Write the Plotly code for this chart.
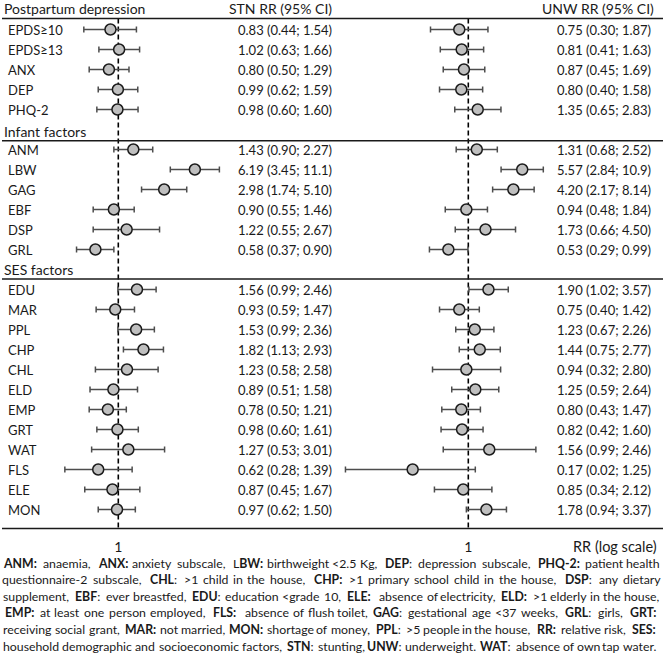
import re
import numpy as np
import plotly.graph_objects as go

W, H = 669, 655
FONT = "Lato"

# ---------------- data ----------------
pp_labels = ["EPDS≥10", "EPDS≥13", "ANX", "DEP", "PHQ-2"]
inf_labels = ["ANM", "LBW", "GAG", "EBF", "DSP", "GRL"]
ses_labels = ["EDU", "MAR", "PPL", "CHP", "CHL", "ELD", "EMP", "GRT", "WAT", "FLS", "ELE", "MON"]

stn_rr = [0.83, 1.02, 0.80, 0.99, 0.98,
          1.43, 6.19, 2.98, 0.90, 1.22, 0.58,
          1.56, 0.93, 1.53, 1.82, 1.23, 0.89, 0.78, 0.98, 1.27, 0.62, 0.87, 0.97]
stn_lo = [0.44, 0.63, 0.50, 0.62, 0.60,
          0.90, 3.45, 1.74, 0.55, 0.55, 0.37,
          0.99, 0.59, 0.99, 1.13, 0.58, 0.51, 0.50, 0.60, 0.53, 0.28, 0.45, 0.62]
stn_hi = [1.54, 1.66, 1.29, 1.59, 1.60,
          2.27, 11.1, 5.10, 1.46, 2.67, 0.90,
          2.46, 1.47, 2.36, 2.93, 2.58, 1.58, 1.21, 1.61, 3.01, 1.39, 1.67, 1.50]

unw_rr = [0.75, 0.81, 0.87, 0.80, 1.35,
          1.31, 5.57, 4.20, 0.94, 1.73, 0.53,
          1.90, 0.75, 1.23, 1.44, 0.94, 1.25, 0.80, 0.82, 1.95, 0.17, 0.85, 1.78]
unw_lo = [0.30, 0.41, 0.45, 0.40, 0.65,
          0.68, 2.84, 2.17, 0.48, 0.66, 0.29,
          1.02, 0.40, 0.67, 0.75, 0.32, 0.59, 0.43, 0.42, 0.45, 0.02, 0.34, 0.94]
unw_hi = [1.87, 1.63, 1.69, 1.58, 2.83,
          2.52, 10.9, 8.14, 1.84, 4.50, 0.99,
          3.57, 1.42, 2.26, 2.77, 2.80, 2.64, 1.47, 1.60, 8.6, 1.25, 2.12, 3.37]

stn_text = ["0.83 (0.44; 1.54)", "1.02 (0.63; 1.66)", "0.80 (0.50; 1.29)", "0.99 (0.62; 1.59)", "0.98 (0.60; 1.60)",
            "1.43 (0.90; 2.27)", "6.19 (3.45; 11.1)", "2.98 (1.74; 5.10)", "0.90 (0.55; 1.46)", "1.22 (0.55; 2.67)", "0.58 (0.37; 0.90)",
            "1.56 (0.99; 2.46)", "0.93 (0.59; 1.47)", "1.53 (0.99; 2.36)", "1.82 (1.13; 2.93)", "1.23 (0.58; 2.58)", "0.89 (0.51; 1.58)",
            "0.78 (0.50; 1.21)", "0.98 (0.60; 1.61)", "1.27 (0.53; 3.01)", "0.62 (0.28; 1.39)", "0.87 (0.45; 1.67)", "0.97 (0.62; 1.50)"]
unw_text = ["0.75 (0.30; 1.87)", "0.81 (0.41; 1.63)", "0.87 (0.45; 1.69)", "0.80 (0.40; 1.58)", "1.35 (0.65; 2.83)",
            "1.31 (0.68; 2.52)", "5.57 (2.84; 10.9)", "4.20 (2.17; 8.14)", "0.94 (0.48; 1.84)", "1.73 (0.66; 4.50)", "0.53 (0.29; 0.99)",
            "1.90 (1.02; 3.57)", "0.75 (0.40; 1.42)", "1.23 (0.67; 2.26)", "1.44 (0.75; 2.77)", "0.94 (0.32; 2.80)", "1.25 (0.59; 2.64)",
            "0.80 (0.43; 1.47)", "0.82 (0.42; 1.60)", "1.56 (0.99; 2.46)", "0.17 (0.02; 1.25)", "0.85 (0.34; 2.12)", "1.78 (0.94; 3.37)"]

group_titles = ["Postpartum depression", "Infant factors", "SES factors"]
col_titles = ["STN RR (95% CI)", "UNW RR (95% CI)"]
ref_value = 1
tick_text = ["1"]
axis_title = "RR (log scale)"

legend_lines = [
    "<b>ANM:</b> anaemia, <b>ANX:</b> anxiety subscale, L<b>BW:</b> birthweight &lt;2.5 Kg, <b>DEP</b>: depression subscale, <b>PHQ-2:</b> patient health",
    "questionnaire-2 subscale, <b>CHL</b>: &gt;1 child in the house, <b>CHP:</b> &gt;1 primary school child in the house, <b>DSP</b>: any dietary",
    "supplement, <b>EBF</b>: ever breastfed, <b>EDU</b>: education &lt;grade 10, <b>ELE:</b> absence of electricity, <b>ELD:</b> &gt;1 elderly in the house,",
    "<b>EMP:</b> at least one person employed, <b>FLS:</b> absence of flush toilet, <b>GAG</b>: gestational age &lt;37 weeks, <b>GRL</b>: girls, <b>GRT:</b>",
    "receiving social grant, <b>MAR:</b> not married, <b>MON:</b> shortage of money, <b>PPL</b>: &gt;5 people in the house, <b>RR:</b> relative risk, <b>SES:</b>",
    "household demographic and socioeconomic factors, <b>STN</b>: stunting, <b>UNW</b>: underweight. <b>WAT</b>: absence of own tap water.",
]

# ---------------- helpers ----------------
labels = pp_labels + inf_labels + ses_labels
rows = list(range(1, 6)) + list(range(7, 13)) + list(range(14, 26))
ROW0, ROWH = 9.5, 20.0          # pixel of row 0, row pitch


def prow(py):
    return (py - ROW0) / ROWH


def px(x):
    return x / W


def py_(y):
    return 1 - y / H


# approximate glyph advance widths (em) for width estimation of the footnote words
_REG = dict(zip("abcdefghijklmnopqrstuvwxyz",
                [.556, .556, .5, .556, .556, .278, .556, .556, .222, .222, .5, .222, .833,
                 .556, .556, .556, .556, .333, .5, .278, .556, .5, .722, .5, .5, .5]))
_REG.update(dict(zip("ABCDEFGHIJKLMNOPQRSTUVWXYZ",
                     [.667, .667, .722, .722, .667, .611, .778, .722, .278, .5, .667, .556, .833,
                      .722, .778, .667, .778, .722, .667, .611, .722, .667, .944, .667, .667, .611])))
_REG.update({c: .556 for c in "0123456789"})
_REG.update({",": .278, ".": .278, ":": .278, ";": .278, "-": .333, "<": .584, ">": .584,
             "(": .333, ")": .333})
_BOLD = dict(_REG)
_BOLD.update(dict(zip("ABCDEFGHIJKLMNOPQRSTUVWXYZ",
                      [.722, .722, .722, .722, .667, .611, .778, .722, .278, .556, .722, .611, .833,
                       .722, .778, .667, .778, .722, .667, .611, .722, .667, .944, .667, .667, .611])))
_BOLD.update({":": .333})
LATO_SCALE = 0.985
BOLD_EXTRA = 1.1


def word_width(word, size):
    bold = False
    w = 0.0
    for seg in re.split(r"(</?b>)", word):
        if seg == "<b>":
            bold = True
            continue
        if seg == "</b>":
            bold = False
            continue
        seg = seg.replace("&lt;", "<").replace("&gt;", ">")
        if bold:
            w += sum(_BOLD.get(c, .556) for c in seg) * BOLD_EXTRA
        else:
            w += sum(_REG.get(c, .556) for c in seg)
    return w * size * LATO_SCALE


fig = go.Figure()

# dashed reference lines at RR = 1 (through each panel's log axis)
for xr in ["x", "x2"]:
    fig.add_trace(go.Scatter(x=[ref_value, ref_value], y=[prow(18.5), prow(528.5)], mode="lines",
                             xaxis=xr, yaxis="y", line=dict(color="#000000", width=1.6, dash="5px,3px"),
                             showlegend=False, hoverinfo="skip"))

# horizontal rules (on an invisible pixel-unit axis)
for ypix in [18.5, 140.7, 279, 528.5]:
    fig.add_trace(go.Scatter(x=[2, 663], y=[prow(ypix), prow(ypix)], mode="lines",
                             xaxis="x3", yaxis="y", line=dict(color="#1a1a1a", width=1.6),
                             showlegend=False, hoverinfo="skip"))

err_style = dict(type="data", symmetric=False, color="#4d4d4d", thickness=1.5, width=3)
mk = dict(size=11, color="#BFBFBF", line=dict(color="#1a1a1a", width=1.5))

fig.add_trace(go.Scatter(
    x=stn_rr, y=rows, mode="markers", xaxis="x", yaxis="y",
    error_x=dict(array=[h - v for h, v in zip(stn_hi, stn_rr)],
                 arrayminus=[v - l for v, l in zip(stn_rr, stn_lo)], **err_style),
    marker=mk, showlegend=False, hoverinfo="skip", cliponaxis=False))
fig.add_trace(go.Scatter(
    x=unw_rr, y=rows, mode="markers", xaxis="x2", yaxis="y",
    error_x=dict(array=[h - v for h, v in zip(unw_hi, unw_rr)],
                 arrayminus=[v - l for v, l in zip(unw_rr, unw_lo)], **err_style),
    marker=mk, showlegend=False, hoverinfo="skip", cliponaxis=False))

ann = []
txt_font = dict(family=FONT, size=13, color="#1a1a1a")
hdr_font = dict(family=FONT, size=14, color="#1a1a1a")

for r, lab, t1, t2 in zip(rows, labels, stn_text, unw_text):
    ann.append(dict(x=px(6), y=r, xref="paper", yref="y", text=lab, showarrow=False,
                    xanchor="left", yanchor="middle", font=txt_font))
    ann.append(dict(x=px(334), y=r, xref="paper", yref="y", text=t1, showarrow=False,
                    xanchor="right", yanchor="middle", font=txt_font))
    ann.append(dict(x=px(653), y=r, xref="paper", yref="y", text=t2, showarrow=False,
                    xanchor="right", yanchor="middle", font=txt_font))

for t, ypix in zip(group_titles, [8.3, 131.7, 269.3]):
    ann.append(dict(x=px(2), y=prow(ypix), xref="paper", yref="y", text=t, showarrow=False,
                    xanchor="left", yanchor="middle", font=hdr_font))
for t, xpix in zip(col_titles, [334, 656]):
    ann.append(dict(x=px(xpix), y=prow(8.3), xref="paper", yref="y", text=t, showarrow=False,
                    xanchor="right", yanchor="middle", font=hdr_font))

ann.append(dict(x=px(659), y=py_(546), xref="paper", yref="paper", text=axis_title, showarrow=False,
                xanchor="right", yanchor="middle", font=dict(family=FONT, size=14.5, color="#1a1a1a")))

# justified footnote: each word centred on its estimated justified position
FN_SIZE = 12.3
for i, line in enumerate(legend_lines):
    words = line.split(" ")
    widths = [word_width(w, FN_SIZE) for w in words]
    left, right = 3.0, (660.0 if i < len(legend_lines) - 1 else 656.0)
    gap = (right - left - sum(widths)) / (len(words) - 1)
    yy = py_(563 + 16.6 * i)
    for k, w in enumerate(words):
        xpos = left + sum(widths[:k]) + gap * k + widths[k] / 2
        ann.append(dict(x=px(xpos), y=yy, xref="paper", yref="paper", text=w,
                        showarrow=False, xanchor="center", yanchor="middle",
                        font=dict(family=FONT, size=FN_SIZE, color="#1a1a1a")))

# axis scales: left 42 px per ln unit with 1 at x=118.3; right 31.4 px per ln with 1 at 468.3
l_ppd = 42 * np.log(10)
r_ppd = 31.4 * np.log(10)
x1_range = [(0 - 118.3) / l_ppd, (334.5 - 118.3) / l_ppd]
x2_range = [(334.5 - 468.3) / r_ppd, (669 - 468.3) / r_ppd]

axis_common = dict(type="log", showgrid=False, zeroline=False, showline=False, ticks="",
                   tickvals=[ref_value], ticktext=tick_text, anchor="free",
                   position=1 - 528.5 / H, tickfont=dict(family=FONT, size=14, color="#1a1a1a"),
                   ticklabelstandoff=8)

fig.update_layout(
    width=W, height=H, margin=dict(l=0, r=0, t=0, b=0, pad=0),
    paper_bgcolor="white", plot_bgcolor="rgba(0,0,0,0)",
    xaxis=dict(domain=[0, 0.5], range=x1_range, **axis_common),
    xaxis2=dict(domain=[0.5, 1], range=x2_range, **axis_common),
    xaxis3=dict(domain=[0, 1], range=[0, W], visible=False, anchor="y"),
    yaxis=dict(domain=[0, 1], range=[prow(H), prow(0)], visible=False),
    annotations=ann,
)

fig.write_html("out.html", config={"displayModeBar": False},
               post_script="document.body.style.margin='0px';document.body.style.padding='0px';")
